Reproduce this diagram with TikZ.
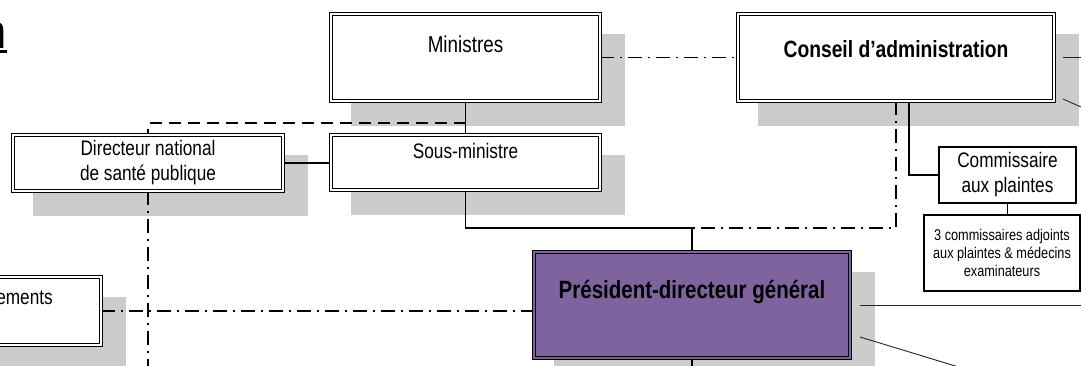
\documentclass[tikz,border=0pt]{standalone}
\usepackage{fontspec}
\setmainfont{Liberation Sans}[FakeStretch=0.82]
\usetikzlibrary{backgrounds}
\definecolor{shadowgray}{RGB}{204,204,204}
\definecolor{pdgpurple}{RGB}{127,99,158}
\newcommand\boxshadow[1]{\fill[shadowgray] ([shift={(20pt,-20pt)}]#1.north west) rectangle ([shift={(25pt,-25pt)}]#1.south east);}
\tikzset{
  dbox/.style={draw, double=white, double distance=1.5pt, line width=1.5pt, fill=white,
    inner sep=0pt, outer sep=0pt, anchor=north west, align=center},
  sbox/.style={draw, line width=1.3pt, fill=white, inner sep=0pt, outer sep=0pt,
    anchor=north west, align=center},
  conn/.style={line width=1.4pt},
  dashline/.style={line width=1.4pt, dash pattern=on 12pt off 7pt},
  dashdot/.style={line width=1.4pt, dash pattern=on 14pt off 6pt on 2pt off 6pt},
  thinline/.style={line width=0.9pt, black!85},
  regfont/.style={font=\fontsize{21}{25}\selectfont},
}
\begin{document}
\begin{tikzpicture}[x=1pt,y=-1pt]
\useasboundingbox (0,0) rectangle (1081,365);
% title fragment
\node[anchor=base east, inner sep=0pt, font=\fontsize{48}{50}\selectfont] (title) at (7,48)
  {n\llap{\rule[-4.8pt]{40pt}{2.6pt}}};
% boxes
\node[dbox, minimum width=269pt, minimum height=87pt, text height=38pt, text depth=49pt,
  font=\fontsize{23}{25}\selectfont] (min) at (331,14) {Ministres};
\node[dbox, regfont, minimum width=269pt, minimum height=55pt, text height=23pt, text depth=32pt]
  (sous) at (331,135) {Sous-ministre};
\node[dbox, regfont, minimum width=270pt, minimum height=56pt] (dir) at (13,135)
  {Directeur national\\de santé publique};
\node[dbox, minimum width=316pt, minimum height=87pt, text height=43pt, text depth=44pt,
  font=\bfseries\fontsize{23.5}{26}\selectfont] (ca) at (738,14) {Conseil d’administration};
\node[dbox, double=pdgpurple, fill=pdgpurple, minimum width=316pt, minimum height=106pt,
  text height=46pt, text depth=60pt, font=\bfseries\fontsize{25}{27}\selectfont]
  (pdg) at (534,252) {Président-directeur général};
\node[dbox, minimum width=270pt, minimum height=68pt] (lb) at (-169,277) {};
\node[anchor=base east, inner sep=0pt, regfont] (lbtext) at (53,304) {ements};
\node[sbox, regfont, minimum width=137pt, minimum height=56pt] (com) at (939,147)
  {Commissaire\\aux plaintes};
\node[sbox, font=\fontsize{15.5}{18}\selectfont, minimum width=156pt, minimum height=76pt]
  (tc) at (924,215) {3 commissaires adjoints\\aux plaintes \& médecins\\examinateurs};
% free ends
\coordinate (dj) at (465.5,123);
\coordinate (dirb) at (148,372);
\coordinate (pdgb) at (692,372);
\coordinate (r1) at (1090,57.5);
\coordinate (r2) at (1090,111);
\coordinate (r3) at (1090,305);
\coordinate (r4) at (985,375);
\begin{scope}[on background layer]
  \fill[white] (0,0) rectangle (1081,365);
  \boxshadow{min}
  \boxshadow{sous}
  \boxshadow{dir}
  \boxshadow{ca}
  \boxshadow{pdg}
  \boxshadow{lb}
  \draw[conn] (min.south) -- (sous.north);
  \draw[dashline] (dj) -| (dir.north);
  \draw[dashdot] (dir.south) -- (dirb);
  \draw[conn] (dir.east) -- (dir.east -| sous.west);
  \draw[dashdot] (min.east) -- (min.east -| ca.west);
  \draw[conn] (sous.south) |- ([yshift=24pt]pdg.north) -- (pdg.north);
  \draw[conn] (pdg.south) -- (pdgb);
  \draw[dashdot] (ca.south) |- ([yshift=24pt]pdg.north);
  \draw[conn] ([xshift=13pt]ca.south) |- (com.west);
  \draw[conn] (com.south) -- (com.south |- tc.north);
  \draw[dashdot] (lb.east) -- (lb.east -| pdg.west);
  \draw[thinline] ([xshift=9pt]ca.east) -- (r1);
  \draw[thinline] ([xshift=9pt,yshift=-41.5pt]ca.east) -- (r2);
  \draw[thinline] ([xshift=10pt]pdg.east) -- (r3);
  \draw[thinline] ([xshift=10pt,yshift=-32pt]pdg.east) -- (r4);
\end{scope}
\end{tikzpicture}
\end{document}
